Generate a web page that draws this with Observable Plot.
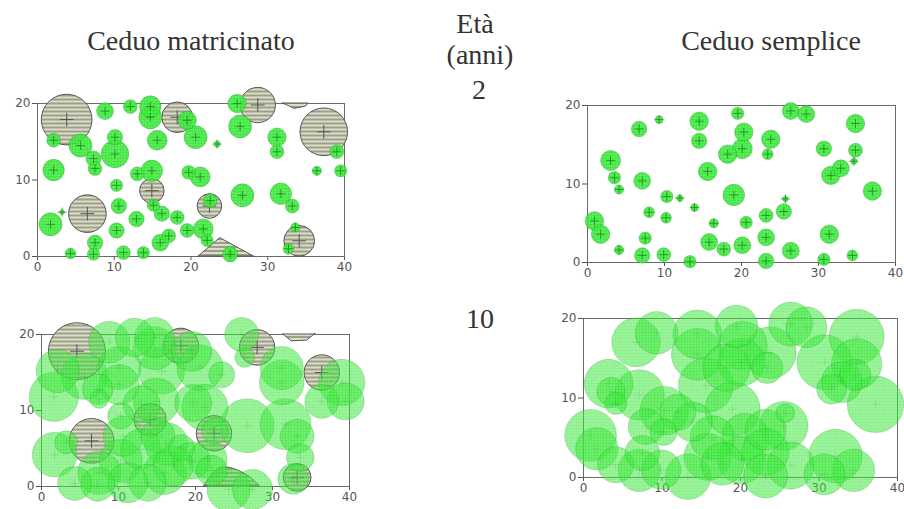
<!DOCTYPE html>
<html><head><meta charset="utf-8">
<script src="https://cdn.jsdelivr.net/npm/d3@7"></script>
<script src="https://cdn.jsdelivr.net/npm/@observablehq/plot@0.6"></script>
<style>
body{margin:0;background:#fff;}
#root{position:relative;width:904px;height:509px;overflow:hidden;background:#fff;}
.p{position:absolute;}
.p svg{overflow:visible;}
</style></head><body>
<svg width="0" height="0" style="position:absolute">
  <defs>
    <pattern id="gh" patternUnits="userSpaceOnUse" width="3" height="3">
      <rect width="3" height="3" fill="#30e530"/>
      <circle cx="1.5" cy="1.5" r="0.6" fill="#c4f7c4"/>
    </pattern>
    <pattern id="sh" patternUnits="userSpaceOnUse" width="4" height="4">
      <rect width="4" height="4" fill="#9d9f86"/>
      <rect y="0" width="4" height="2" fill="#dcdccb"/>
    </pattern>
  </defs>
</svg>
<div id="root"></div>
<script>
// ---- text ----
const columnTitles = ["Ceduo matricinato", "Ceduo semplice"];
const ageTitle = ["Età", "(anni)"];
const ages = ["2", "10"];
const xTicks = [0, 10, 20, 30, 40];
const yTicks = [0, 10, 20];

// ---- crowns: [x, y, radius] in metres ----
// Ceduo matricinato, 2 anni
const tlGreen = [[2.1,15.2,0.9],[5.6,14.5,1.5],[8.8,19.0,1.1],[12.1,19.6,0.9],[14.7,19.6,1.4],[14.7,18.2,1.5],[15.6,15.2,1.3],[19.5,17.8,1.2],[20.6,15.6,1.5],[23.4,14.7,0.4],[26.0,20.0,1.2],[26.4,17.0,1.5],[31.2,15.6,1.2],[31.2,13.7,0.9],[39.0,13.7,0.9],[36.4,11.2,0.6],[39.5,11.2,0.8],[10.1,15.6,1.0],[10.1,13.4,1.8],[7.3,12.8,1.0],[7.5,11.5,0.9],[2.1,11.3,1.4],[10.3,9.3,0.8],[13.0,10.8,0.9],[14.9,11.2,1.4],[19.7,11.0,0.9],[21.2,10.4,1.3],[26.7,8.0,1.5],[31.7,8.2,1.4],[33.2,6.6,0.9],[10.6,6.6,1.0],[12.9,4.9,1.0],[16.2,5.6,1.0],[18.2,5.1,0.9],[15.1,6.7,0.8],[1.7,4.2,1.5],[3.2,5.8,0.3],[10.3,3.4,1.0],[7.5,1.8,1.0],[7.3,0.3,0.8],[4.3,0.4,0.7],[11.2,0.5,0.9],[13.8,0.5,0.8],[16.0,1.8,1.1],[17.1,2.7,0.9],[19.5,3.4,0.9],[21.6,3.6,1.3],[22.1,2.1,0.8],[25.1,0.3,1.0],[22.5,7.3,0.9],[33.6,3.8,0.6],[32.7,1.0,0.7]];
const tlStd = [[3.8,17.9,3.3],[18.2,18.2,2.0],[28.7,19.8,2.3],[37.3,16.3,3.1],[6.5,5.6,2.45],[14.9,8.6,1.6],[22.4,6.6,1.6],[34.1,2.05,2.0]];
const tlEdgeLow = [[21.0,0],[23.8,2.4],[28.2,0]];
const tlEdgeTop = [[32.0,20],[33.5,19.3],[35.0,19.6],[35.3,20]];

// Ceduo semplice, 2 anni
const trGreen = [[9.3,18.2,0.5],[6.7,17.0,1.0],[14.5,18.0,1.2],[14.5,15.5,1.0],[19.5,19.0,0.8],[20.3,16.6,1.2],[20.1,14.5,1.3],[18.2,13.8,1.2],[23.8,15.7,1.2],[23.4,13.8,0.7],[26.4,19.3,1.1],[28.4,18.9,1.1],[30.7,14.5,1.0],[34.8,17.7,1.2],[34.8,14.3,0.9],[34.6,12.9,0.4],[31.6,11.1,1.2],[32.9,12.0,1.1],[37.0,9.1,1.2],[3.0,13.0,1.3],[3.5,10.8,0.8],[4.1,9.3,0.6],[7.1,10.4,1.1],[15.6,11.6,1.2],[19.0,8.6,1.4],[10.3,8.4,0.8],[12.0,8.2,0.4],[13.9,7.0,0.5],[8.0,6.4,0.7],[10.2,5.7,0.7],[16.4,5.0,0.6],[20.6,5.1,0.8],[23.2,6.0,0.9],[25.5,6.5,1.0],[25.7,8.1,0.35],[0.9,5.3,1.2],[1.7,3.6,1.2],[4.1,1.6,0.6],[7.5,3.1,0.8],[7.1,0.9,1.0],[9.9,1.0,0.9],[13.3,0.1,0.8],[15.8,2.6,1.1],[17.7,1.7,0.9],[20.1,2.2,1.1],[23.2,3.2,1.1],[23.2,0.2,1.0],[26.4,1.5,1.1],[31.4,3.6,1.2],[30.7,0.4,0.8],[34.4,0.9,0.7]];

// Ceduo matricinato, 10 anni
const blGreen = [[2.1,15.2,2.8],[5.6,14.5,3.0],[8.8,19.0,2.7],[12.1,19.6,2.5],[14.7,19.6,2.6],[14.7,18.2,2.8],[15.6,15.2,3.0],[19.5,17.8,2.6],[20.6,15.6,3.0],[23.4,14.7,1.7],[26.0,20.0,2.2],[26.4,17.0,1.3],[31.2,15.6,2.8],[31.2,13.7,2.9],[39.0,13.7,3.0],[36.4,11.2,2.2],[39.5,11.2,2.4],[10.1,15.6,2.8],[10.1,13.4,2.6],[7.3,12.8,2.0],[7.5,11.5,1.2],[1.6,11.8,3.2],[10.3,9.3,1.7],[13.0,10.8,2.4],[14.9,11.2,3.0],[19.7,11.0,2.4],[21.2,10.4,3.0],[26.7,8.0,3.5],[31.7,8.2,3.3],[33.2,6.6,2.2],[10.6,6.6,2.6],[12.9,4.9,2.6],[16.2,5.6,2.8],[18.2,5.1,1.7],[15.1,6.7,2.2],[1.7,4.2,2.9],[3.2,5.8,1.5],[10.3,3.4,2.8],[7.5,1.8,2.8],[7.3,0.3,2.2],[4.3,0.4,2.2],[11.2,0.5,2.6],[13.8,0.5,2.4],[16.0,1.8,2.8],[17.1,2.7,2.6],[19.5,3.4,2.4],[21.6,3.6,2.5],[22.1,2.1,2.0],[24.3,-0.4,2.8],[27.4,-0.4,2.6],[22.5,7.3,1.7],[33.6,3.8,1.8],[32.7,1.0,2.0]];
const blStd = [[4.6,17.8,3.7],[18.1,18.5,2.3],[28.0,18.3,2.3],[36.4,15.0,2.3],[6.5,6.0,2.9],[14.1,8.8,2.1],[22.4,7.0,2.3],[33.2,1.2,1.8]];
const blEdgeLow = [[21.1,0],[22.5,1.9],[24.1,2.5],[26.5,1.6],[28.4,0]];
const blEdgeTop = [[31.4,20],[32.5,19.1],[34.5,19.2],[35.6,20.1]];

// Ceduo semplice, 10 anni
const brGreen = [[9.3,18.2,2.7],[6.7,17.0,3.1],[14.5,18.0,3.1],[14.5,15.5,3.3],[19.5,19.0,2.7],[20.3,16.6,3.1],[20.1,14.5,3.0],[18.2,13.8,3.0],[23.8,15.7,3.3],[23.4,13.8,2.0],[26.4,19.3,2.8],[28.4,18.9,2.6],[30.7,14.5,3.5],[34.8,17.7,3.5],[34.8,14.3,3.2],[34.6,12.9,2.0],[31.6,11.1,1.9],[32.9,12.0,2.6],[37.2,9.2,3.6],[3.2,11.8,3.1],[3.5,10.8,1.8],[4.1,9.3,1.4],[7.1,10.4,3.2],[15.6,11.6,3.5],[19.0,8.6,3.5],[10.3,8.4,3.1],[12.0,8.2,2.3],[13.9,7.0,2.5],[8.0,6.4,2.3],[10.2,5.7,1.7],[16.4,5.0,2.8],[20.6,5.1,3.0],[23.2,6.0,2.6],[25.5,6.5,3.1],[25.7,8.1,1.2],[0.9,5.3,3.3],[1.7,3.6,2.7],[4.1,1.6,2.3],[7.5,3.1,2.2],[7.1,0.9,2.7],[9.9,1.0,2.5],[13.3,0.1,2.9],[15.8,2.6,3.0],[17.7,1.7,2.7],[20.1,2.2,3.0],[23.2,3.2,3.0],[23.2,0.2,2.8],[26.4,1.5,3.0],[32.1,2.7,3.4],[30.7,0.4,2.6],[34.4,0.9,2.7]];

const root = document.getElementById("root");
const X = d => d[0], Y = d => d[1], R = d => d[2];

function panel({left, top, width, height, ml, mr, mt, mb, green, std, edges, gOpacity, gStroke, greenCross, stdCross}) {
  const iw = width - ml - mr;
  const marks = [Plot.frame({stroke: "#6a6a6a"})];
  if (std) {
    for (const e of edges) marks.push(Plot.area(e.data, {x1: X, y1: Y, y2: e.base, fill: "url(#sh)", stroke: "#555", strokeWidth: 1, curve: e.curve}));
    marks.push(Plot.dot(std, {x: X, y: Y, r: R, fill: "url(#sh)", stroke: "#555", strokeWidth: 1}));
    if (stdCross) marks.push(Plot.dot(std, {x: X, y: Y, symbol: "plus", r: 4.5, stroke: "#555", strokeWidth: 1}));
  }
  marks.push(Plot.dot(green, {x: X, y: Y, r: R, fill: "url(#gh)", fillOpacity: gOpacity, stroke: "#1c9a1c", strokeOpacity: gStroke, strokeWidth: 0.8}));
  if (greenCross) marks.push(Plot.dot(green, {x: X, y: Y, symbol: "plus", r: 3, stroke: "#168c16", strokeOpacity: greenCross, strokeWidth: 1}));
  const svg = Plot.plot({
    width, height, marginLeft: ml, marginRight: mr, marginTop: mt, marginBottom: mb,
    x: {domain: [0, 40], ticks: xTicks, tickSize: 4, tickPadding: 2, label: null},
    y: {domain: [0, 20], ticks: yTicks, tickSize: 5, tickPadding: 2, label: null},
    r: {type: "linear", domain: [0, 40], range: [0, iw]},
    style: {fontSize: "12px", fontFamily: "DejaVu Sans, sans-serif", color: "#555", background: "transparent", overflow: "visible"},
    marks
  });
  const div = document.createElement("div");
  div.className = "p";
  div.style.left = left + "px";
  div.style.top = top + "px";
  div.appendChild(svg);
  root.appendChild(div);
}

panel({left: 0, top: 80, width: 360, height: 200, ml: 37, mr: 16, mt: 23, mb: 24,
  green: tlGreen, std: tlStd, edges: [{data: tlEdgeLow, base: 0, curve: "linear"}, {data: tlEdgeTop, base: 20, curve: "linear"}],
  gOpacity: 0.9, gStroke: 0.45, greenCross: 0.8, stdCross: true});
panel({left: 540, top: 80, width: 364, height: 205, ml: 47, mr: 9, mt: 25, mb: 23,
  green: trGreen, gOpacity: 0.9, gStroke: 0.45, greenCross: 0.8});
panel({left: 0, top: 290, width: 380, height: 219, ml: 41, mr: 31, mt: 44, mb: 23,
  green: blGreen, std: blStd, edges: [{data: blEdgeLow, base: 0, curve: "natural"}, {data: blEdgeTop, base: 20, curve: "linear"}],
  gOpacity: 0.55, gStroke: 0.3, greenCross: 0.15, stdCross: true});
panel({left: 540, top: 290, width: 364, height: 219, ml: 43, mr: 7, mt: 28, mb: 32,
  green: brGreen, gOpacity: 0.55, gStroke: 0.3, greenCross: 0.12});

// titles
const t = d3.select(root).append("svg")
  .attr("width", 904).attr("height", 509)
  .style("position", "absolute").style("left", 0).style("top", 0).style("pointer-events", "none")
  .attr("font-family", "Liberation Serif, Times New Roman, serif").attr("font-size", 28)
  .attr("fill", "#333").attr("text-anchor", "middle");
t.append("text").attr("x", 191).attr("y", 50).text(columnTitles[0]);
t.append("text").attr("x", 771).attr("y", 50).text(columnTitles[1]);
t.append("text").attr("x", 475).attr("y", 33).text(ageTitle[0]);
t.append("text").attr("x", 480).attr("y", 64).text(ageTitle[1]);
t.append("text").attr("x", 479).attr("y", 99).text(ages[0]);
t.append("text").attr("x", 480).attr("y", 328).text(ages[1]);
</script></body></html>
